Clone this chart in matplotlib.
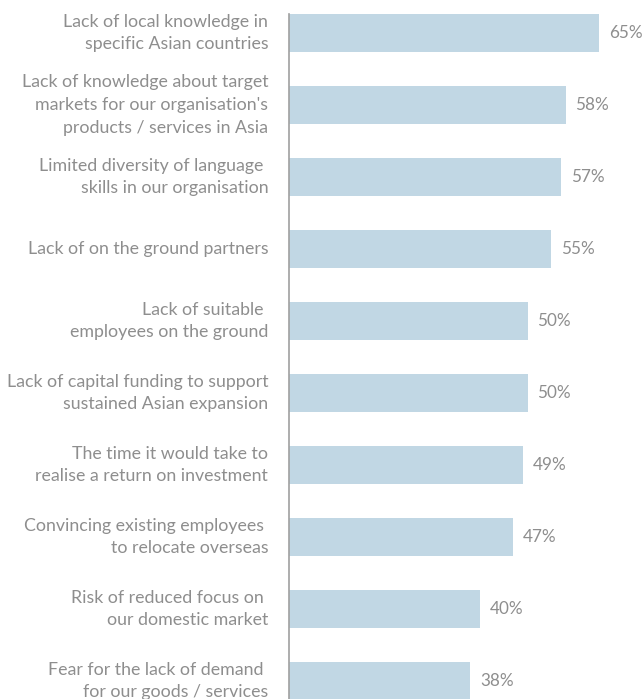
import matplotlib.pyplot as plt

plt.rcParams['font.family'] = ['Lato', 'DejaVu Sans']

# survey answers, top to bottom
labels = [
    "Lack of local knowledge in\nspecific Asian countries",
    "Lack of knowledge about target\nmarkets for our organisation's\nproducts / services in Asia",
    "Limited diversity of language \nskills in our organisation",
    "Lack of on the ground partners",
    "Lack of suitable \nemployees on the ground",
    "Lack of capital funding to support\nsustained Asian expansion",
    "The time it would take to\nrealise a return on investment",
    "Convincing existing employees \nto relocate overseas",
    "Risk of reduced focus on \nour domestic market",
    "Fear for the lack of demand \nfor our goods / services",
]
values = [65, 58, 57, 55, 50, 50, 49, 47, 40, 38]

bar_color = '#c1d7e4'
text_color = '#8e8e8e'

fig = plt.figure(figsize=(6.43, 6.99), dpi=100)
ax = fig.add_axes([289 / 643, 0, 1 - 289 / 643, 1])

pos = list(range(len(values)))
bh = 0.53
ax.barh(pos, values, height=bh, color=bar_color)

ax.set_xlim(0, (643 - 289) / 4.77)
ax.set_ylim((699 - 33) / 72, -33 / 72)

for p, v, lab in zip(pos, values, labels):
    ax.annotate('{}%'.format(v), (v, p), xytext=(7, 0), textcoords='offset points',
                ha='left', va='center', fontsize=12.3, color=text_color)
    ax.annotate(lab, (0, p), xytext=(-15, 0), textcoords='offset points',
                ha='right', va='center', fontsize=12.8, color=text_color,
                linespacing=1.5, annotation_clip=False)

for s in ['top', 'right', 'bottom']:
    ax.spines[s].set_visible(False)
ax.spines['left'].set_color('#a0a0a0')
ax.spines['left'].set_linewidth(1.2)
ax.spines['left'].set_bounds(-bh / 2, (699 - 33) / 72)
ax.set_xticks([])
ax.set_yticks([])

fig.savefig('out.png', dpi=100)
